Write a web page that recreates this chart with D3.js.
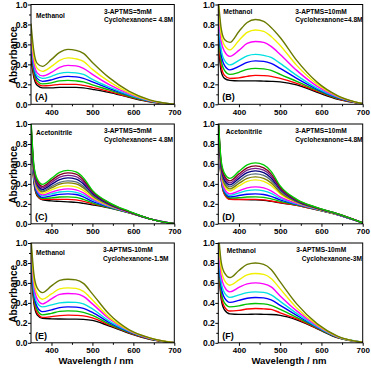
<!DOCTYPE html>
<html>
<head>
<meta charset="utf-8">
<script src="https://cdnjs.cloudflare.com/ajax/libs/d3/7.8.5/d3.min.js"></script>
<style>
  body { margin: 0; background: #fff; }
  svg { display: block; font-family: "Liberation Sans", Arial, sans-serif; }
  .tick text { font-weight: bold; font-size: 8.5px; }
  .xax .tick text { font-size: 8px; }
  .note { font-weight: bold; font-size: 6.6px; }
</style>
</head>
<body>
<svg id="chart" width="371" height="368"></svg>
<script>
/* shared wavelength grid (nm) */
var wavelengths = [350, 357, 365, 378, 400, 420, 440, 460, 478, 500, 540, 590, 640, 700];
var xTicks = [400, 500, 600, 700];
var yTicks = [0.0, 0.2, 0.4, 0.6, 0.8, 1.0];

var colors8 = ['#000000', '#ff0000', '#00c000', '#0000ff', '#00e0e0', '#ff00ff', '#f0f000', '#6b7a00'];
var colors13 = ['#000000', '#ff0000', '#00c000', '#0000ff', '#00e0e0', '#ff00ff', '#f0f000', '#808000',
                '#556b7a', '#000080', '#7a1a8a', '#800020', '#00cc00'];

// (A) Methanol, 3-APTMS 5mM, cyclohexanone 4.8M
var panelA = [
  [.45, .27, .19, .165, .165, .17, .17, .17, .165, .15, .12, .07, .025, 0],
  [.50, .30, .21, .185, .19, .20, .20, .20, .19, .17, .13, .075, .027, 0],
  [.55, .33, .235, .205, .215, .235, .24, .235, .225, .195, .145, .08, .03, 0],
  [.58, .36, .26, .23, .245, .27, .28, .275, .26, .225, .16, .09, .032, 0],
  [.62, .39, .285, .26, .28, .31, .32, .315, .30, .25, .175, .095, .035, 0],
  [.66, .42, .315, .285, .32, .37, .39, .385, .36, .30, .20, .105, .037, 0],
  [.72, .47, .36, .33, .38, .44, .465, .455, .43, .35, .23, .115, .04, 0],
  [.81, .53, .41, .38, .45, .52, .55, .54, .51, .42, .27, .13, .045, 0]
];

// (B) Methanol, 3-APTMS 10mM, cyclohexanone 4.8M
var panelB = [
  [.60, .33, .26, .24, .235, .235, .235, .232, .23, .225, .195, .12, .05, .005],
  [.68, .38, .29, .26, .265, .28, .29, .287, .28, .26, .21, .13, .055, .005],
  [.75, .44, .34, .30, .32, .35, .36, .355, .34, .30, .23, .14, .06, .005],
  [.82, .50, .39, .345, .38, .42, .435, .43, .41, .36, .26, .15, .065, .005],
  [.88, .55, .44, .395, .44, .485, .50, .49, .47, .41, .29, .16, .07, .005],
  [.95, .63, .53, .48, .54, .61, .63, .62, .58, .50, .34, .18, .075, .005],
  [1.0, .70, .59, .545, .64, .72, .745, .73, .68, .59, .39, .20, .08, .005],
  [1.05, .76, .65, .62, .73, .82, .85, .83, .77, .67, .44, .22, .085, .005]
];

// (C) Acetonitrile, 3-APTMS 5mM, cyclohexanone 4.8M
var panelC = [
  [.85, .42, .28, .24, .23, .225, .22, .215, .205, .19, .16, .11, .05, 0],
  [.87, .44, .29, .245, .245, .245, .245, .24, .225, .20, .165, .11, .05, 0],
  [.88, .45, .30, .255, .26, .268, .27, .265, .245, .21, .165, .11, .05, 0],
  [.90, .46, .31, .265, .28, .295, .30, .293, .27, .225, .17, .115, .05, 0],
  [.91, .47, .33, .28, .30, .318, .325, .315, .29, .24, .175, .115, .05, 0],
  [.92, .48, .34, .29, .317, .34, .35, .34, .31, .25, .18, .115, .05, 0],
  [.93, .50, .355, .305, .34, .37, .38, .37, .335, .265, .185, .12, .05, 0],
  [.95, .51, .37, .32, .36, .397, .41, .40, .36, .28, .19, .12, .05, 0],
  [.96, .52, .38, .33, .375, .415, .43, .42, .375, .29, .195, .12, .05, 0],
  [.98, .54, .395, .345, .395, .443, .46, .448, .40, .305, .20, .12, .05, 0],
  [1.0, .55, .41, .36, .415, .467, .485, .472, .42, .315, .205, .12, .05, 0],
  [1.02, .57, .43, .375, .435, .49, .51, .497, .44, .325, .21, .12, .05, 0],
  [1.05, .59, .45, .395, .455, .515, .535, .52, .46, .335, .215, .125, .05, 0]
];

// (D) Acetonitrile, 3-APTMS 10mM, cyclohexanone 4.8M
var panelD = [
  [.95, .45, .30, .25, .245, .242, .24, .235, .225, .21, .185, .14, .09, .01],
  [.96, .45, .295, .245, .243, .244, .245, .24, .228, .212, .186, .14, .09, .01],
  [.97, .46, .31, .26, .262, .268, .27, .265, .25, .225, .19, .142, .09, .01],
  [.97, .47, .32, .27, .283, .296, .30, .293, .275, .24, .195, .144, .091, .01],
  [.98, .48, .335, .285, .31, .332, .34, .33, .305, .255, .20, .146, .092, .01],
  [.99, .49, .35, .30, .33, .36, .37, .36, .33, .27, .205, .148, .093, .01],
  [1.0, .52, .38, .33, .38, .425, .44, .425, .385, .30, .215, .15, .094, .01],
  [1.01, .54, .40, .35, .405, .455, .47, .455, .41, .315, .22, .152, .095, .01],
  [1.02, .55, .42, .37, .43, .485, .50, .485, .435, .33, .225, .154, .096, .01],
  [1.03, .57, .44, .39, .455, .513, .53, .513, .46, .345, .23, .156, .097, .01],
  [1.04, .59, .46, .41, .477, .537, .555, .537, .48, .355, .235, .158, .098, .01],
  [1.05, .61, .48, .43, .50, .56, .58, .56, .50, .365, .24, .16, .099, .01],
  [1.06, .63, .505, .455, .525, .59, .61, .59, .525, .38, .245, .162, .10, .01]
];

// (E) Methanol, 3-APTMS 10mM, cyclohexanone 1.5M
var panelE = [
  [.75, .40, .28, .245, .24, .238, .237, .237, .235, .225, .17, .095, .035, 0],
  [.80, .43, .30, .255, .262, .272, .277, .275, .27, .25, .18, .10, .038, 0],
  [.85, .46, .33, .28, .295, .315, .32, .317, .305, .275, .19, .105, .04, 0],
  [.88, .49, .36, .312, .33, .353, .36, .357, .345, .305, .205, .11, .042, 0],
  [.92, .53, .40, .36, .38, .40, .407, .405, .39, .34, .22, .115, .044, 0],
  [.96, .58, .44, .39, .44, .485, .494, .49, .465, .39, .245, .12, .046, 0],
  [1.0, .63, .49, .437, .49, .54, .55, .545, .515, .43, .26, .125, .048, 0],
  [1.05, .69, .55, .503, .57, .625, .637, .63, .595, .49, .29, .13, .05, 0]
];

// (F) Methanol, 3-APTMS 10mM, cyclohexanone 3M
var panelF = [
  [.80, .44, .33, .29, .285, .285, .287, .285, .283, .275, .23, .14, .05, .005],
  [.85, .47, .36, .318, .325, .338, .344, .34, .335, .30, .24, .145, .052, .005],
  [.90, .51, .40, .36, .37, .388, .394, .39, .375, .335, .255, .15, .054, .005],
  [.95, .56, .45, .405, .425, .447, .454, .45, .43, .375, .275, .155, .056, .005],
  [1.0, .61, .50, .455, .48, .503, .51, .505, .48, .415, .295, .16, .058, .005],
  [1.04, .67, .56, .51, .555, .59, .60, .59, .56, .47, .32, .17, .06, .005],
  [1.08, .74, .625, .577, .63, .68, .694, .685, .645, .54, .35, .18, .062, .005],
  [1.12, .81, .70, .654, .725, .785, .80, .785, .735, .61, .39, .19, .065, .005]
];

var panelLabels = ['(A)', '(B)', '(C)', '(D)', '(E)', '(F)'];
var solvents = ['Methanol', 'Methanol', 'Acetonitrile', 'Acetonitrile', 'Methanol', 'Methanol'];
var aptmsText = ['3-APTMS=5mM', '3-APTMS=10mM', '3-APTMS=5mM', '3-APTMS=10mM', '3-APTMS-10mM', '3-APTMS-10mM'];
var cycloText = ['Cyclohexanone= 4.8M', 'Cyclohexanone=4.8M', 'Cyclohexanone= 4.8M', 'Cyclohexanone=4.8M',
                 'Cyclohexanone-1.5M', 'Cyclohexanone-3M'];

/* layout */
var colX = [[31, 174.3], [218.3, 362.7]];
var rowY = [4.5, 124, 243];
var plotH = 99.8;

var panels = [
  { data: panelA, colors: colors8,  col: 0, row: 0, solvDx: 5,   solvDy: 13, noteDx: 73, cycDx: 73 },
  { data: panelB, colors: colors8,  col: 1, row: 0, solvDx: 5,   solvDy: 9.5, noteDx: 77, cycDx: 77 },
  { data: panelC, colors: colors13, col: 0, row: 1, solvDx: 5,   solvDy: 11, noteDx: 73, cycDx: 73 },
  { data: panelD, colors: colors13, col: 1, row: 1, solvDx: 7.5, solvDy: 10, noteDx: 77, cycDx: 77 },
  { data: panelE, colors: colors8,  col: 0, row: 2, solvDx: 5,   solvDy: 12, noteDx: 72, cycDx: 72 },
  { data: panelF, colors: colors8,  col: 1, row: 2, solvDx: 8.5, solvDy: 10, noteDx: 78, cycDx: 83.5 }
];

var svg = d3.select('#chart');
svg.append('rect').attr('width', 371).attr('height', 368).attr('fill', '#fff');

panels.forEach(function(p, i) {
	var x0 = colX[p.col][0], x1 = colX[p.col][1];
	var y0 = rowY[p.row], y1 = rowY[p.row] + plotH;

	var x = d3.scaleLinear().domain([350, 700]).range([x0, x1]);
	var y = d3.scaleLinear().domain([0, 1]).range([y1, y0]);

	var g = svg.append('g').attr('class', 'panel');

	g.append('clipPath').attr('id', 'clip' + i)
	 .append('rect')
	 .attr('x', x0).attr('y', y0)
	 .attr('width', x1 - x0).attr('height', y1 - y0);

	var line = d3.line()
				.x(function(d, k) { return x(wavelengths[k]); })
				.y(function(d) { return y(d); })
				.curve(d3.curveMonotoneX);

	g.append('g').attr('clip-path', 'url(#clip' + i + ')')
	 .selectAll('path')
	 .data(p.data)
	 .enter().append('path')
	 .attr('d', line)
	 .attr('fill', 'none')
	 .attr('stroke', function(d, k) { return p.colors[k]; })
	 .attr('stroke-width', 1.4);

	// minor ticks
	g.append('g').attr('transform', 'translate(0,' + y1 + ')')
	 .call(d3.axisBottom(x).tickValues([450, 550, 650]).tickSize(2).tickFormat(''))
	 .call(function(a) { a.select('.domain').remove(); });
	g.append('g').attr('transform', 'translate(' + x0 + ',0)')
	 .call(d3.axisLeft(y).tickValues([0.1, 0.3, 0.5, 0.7, 0.9]).tickSize(2).tickFormat(''))
	 .call(function(a) { a.select('.domain').remove(); });

	// major axes
	g.append('g').attr('class', 'xax').attr('transform', 'translate(0,' + y1 + ')')
	 .call(d3.axisBottom(x).tickValues(xTicks).tickSize(3).tickSizeOuter(0).tickPadding(2).tickFormat(d3.format('d')))
	 .call(function(a) { a.select('.domain').remove(); });
	g.append('g').attr('transform', 'translate(' + x0 + ',0)')
	 .call(d3.axisLeft(y).tickValues(yTicks).tickSize(3).tickSizeOuter(0).tickPadding(0.5).tickFormat(d3.format('.1f')))
	 .call(function(a) { a.select('.domain').remove(); });

	g.selectAll('.tick line').attr('stroke', '#000');
	g.selectAll('.tick text').attr('fill', '#000');

	// frame
	g.append('rect')
	 .attr('x', x0).attr('y', y0)
	 .attr('width', x1 - x0).attr('height', y1 - y0)
	 .attr('fill', 'none').attr('stroke', '#000').attr('stroke-width', 1);

	// notes
	g.append('text').attr('class', 'note')
	 .attr('x', x0 + p.solvDx).attr('y', y0 + p.solvDy).text(solvents[i]);
	g.append('text').attr('class', 'note')
	 .attr('x', x0 + p.noteDx).attr('y', y0 + 9).text(aptmsText[i]);
	g.append('text').attr('class', 'note')
	 .attr('x', x0 + p.cycDx).attr('y', y0 + 17.5).text(cycloText[i]);

	g.append('text')
	 .attr('x', x0 + 4).attr('y', y1 - 4)
	 .attr('font-weight', 'bold').attr('font-size', '9px')
	 .text(panelLabels[i]);
});

// axis titles
[0, 1, 2].forEach(function(r) {
	svg.append('text')
	   .attr('transform', 'translate(17,' + (rowY[r] + plotH / 2 + 1) + ') rotate(-90)')
	   .attr('text-anchor', 'middle')
	   .attr('font-weight', 'bold').attr('font-size', '10px')
	   .text('Absorbance');
});
[[96, 0], [289, 1]].forEach(function(c) {
	svg.append('text')
	   .attr('x', c[0]).attr('y', 364)
	   .attr('text-anchor', 'middle')
	   .attr('font-weight', 'bold').attr('font-size', '9.5px')
	   .text('Wavelength / nm');
});
</script>
</body>
</html>
